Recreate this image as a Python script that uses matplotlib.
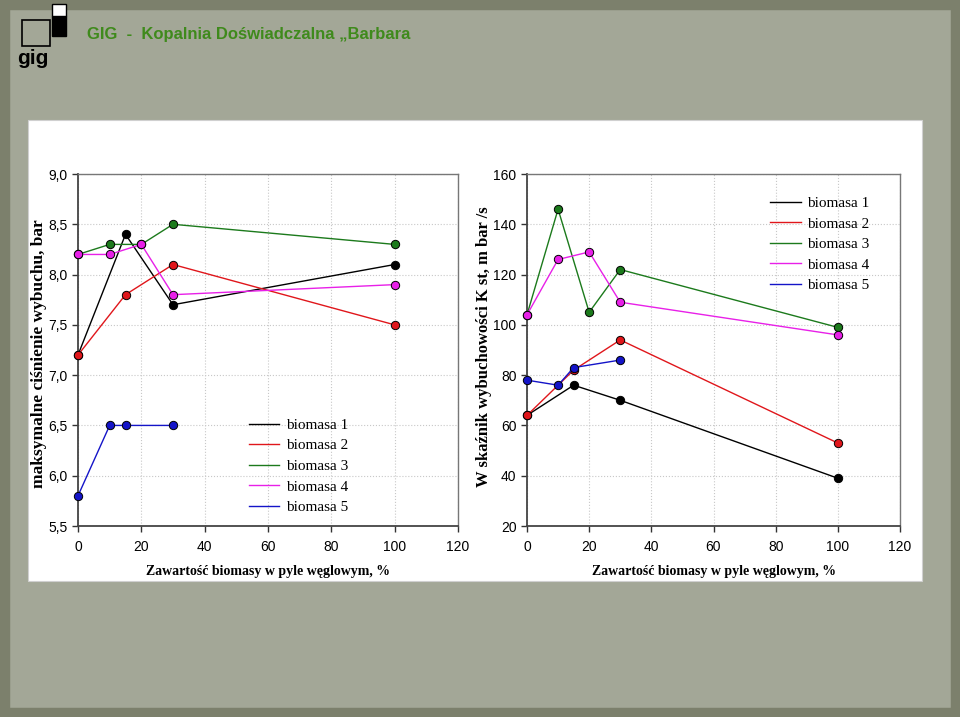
import matplotlib
matplotlib.use("Agg")
import matplotlib.pyplot as plt
from matplotlib.lines import Line2D
from matplotlib.patches import Rectangle
from matplotlib.ticker import FuncFormatter, MultipleLocator

# content of biomass in coal dust, %
labels = ["biomasa 1", "biomasa 2", "biomasa 3", "biomasa 4", "biomasa 5"]
colors = ["#000000", "#e0161b", "#1c7a1c", "#e820e8", "#1414c8"]

# maximum explosion pressure, bar
p_x = [
    [0, 15, 30, 100],
    [0, 15, 30, 100],
    [0, 10, 20, 30, 100],
    [0, 10, 20, 30, 100],
    [0, 10, 15, 30],
]
p_y = [
    [7.2, 8.4, 7.7, 8.1],
    [7.2, 7.8, 8.1, 7.5],
    [8.2, 8.3, 8.3, 8.5, 8.3],
    [8.2, 8.2, 8.3, 7.8, 7.9],
    [5.8, 6.5, 6.5, 6.5],
]

# explosion index Kst, bar m/s
k_x = [
    [0, 15, 30, 100],
    [0, 15, 30, 100],
    [0, 10, 20, 30, 100],
    [0, 10, 20, 30, 100],
    [0, 10, 15, 30],
]
k_y = [
    [64, 76, 70, 39],
    [64, 82, 94, 53],
    [104, 146, 105, 122, 99],
    [104, 126, 129, 109, 96],
    [78, 76, 83, 86],
]

XLABEL = "Zawartość biomasy w pyle węglowym, %"
YLABEL1 = "maksymalne ciśnienie wybuchu, bar"
YLABEL2 = "W skaźnik wybuchowości K st, m bar /s"
SANS = "Liberation Sans"
SERIF = "Liberation Serif"

fig = plt.figure(figsize=(9.6, 7.17), dpi=100)
fig.patch.set_facecolor("#a3a797")

# darker torn-paper edges of the slide
fig.patches.append(Rectangle((0, 0), 1, 1, transform=fig.transFigure,
                             fill=False, edgecolor="#7c806c", linewidth=14,
                             zorder=-2))
# white panel behind the charts
fig.patches.append(Rectangle((28 / 960, 1 - 581 / 717), 894 / 960, 461 / 717,
                             transform=fig.transFigure, facecolor="white",
                             edgecolor="#d0d0d0", linewidth=0.8, zorder=-1))

fig.text(87 / 960, 1 - 35 / 717, "GIG  -  Kopalnia Doświadczalna \u201eBarbara",
         color="#3f8a1c", fontsize=12, fontweight="bold",
         family=SANS, va="center", ha="left")
fig.text(33 / 960, 1 - 59 / 717, "gig", color="black", fontsize=15,
         fontweight="bold", family=SANS, va="center", ha="center")
fig.patches.append(Rectangle((22 / 960, 1 - 46 / 717), 28 / 960, 26 / 717,
                             transform=fig.transFigure, fill=False,
                             edgecolor="black", linewidth=1.2))
fig.patches.append(Rectangle((52 / 960, 1 - 36 / 717), 14 / 960, 20 / 717,
                             transform=fig.transFigure, facecolor="black",
                             edgecolor="black", linewidth=1))
fig.patches.append(Rectangle((52 / 960, 1 - 16 / 717), 14 / 960, 12 / 717,
                             transform=fig.transFigure, facecolor="white",
                             edgecolor="black", linewidth=1))


def comma(v, _):
    return f"{v:.1f}".replace(".", ",")


def style_axes(ax):
    ax.set_facecolor("white")
    ax.grid(True, linestyle=":", color="#c8c8c8", linewidth=0.8)
    ax.set_axisbelow(True)
    for s in ["left", "bottom"]:
        ax.spines[s].set_color("#444444")
        ax.spines[s].set_linewidth(1.3)
    for s in ["top", "right"]:
        ax.spines[s].set_color("#777777")
        ax.spines[s].set_linewidth(1.0)
    ax.tick_params(direction="out", length=4, width=1, colors="#333333",
                   labelsize=10, labelcolor="black")
    ax.tick_params(axis="x", pad=6)
    for t in ax.get_xticklabels() + ax.get_yticklabels():
        t.set_family(SANS)
    ax.set_xlim(0, 120)
    ax.xaxis.set_major_locator(MultipleLocator(20))
    ax.set_xlabel(XLABEL, family=SERIF, fontsize=10, fontweight="bold",
                  labelpad=8)


def draw(ax, xs, ys):
    for x, y, c in zip(xs, ys, colors):
        ax.plot(x, y, "-o", color=c, linewidth=1.0, markersize=6,
                markerfacecolor=c, markeredgecolor="black",
                markeredgewidth=0.7, clip_on=False, zorder=3)


def add_legend(ax, anchor):
    handles = [Line2D([], [], color=c, linewidth=1.0) for c in colors]
    ax.legend(handles, labels, loc="center", bbox_to_anchor=anchor,
              frameon=False, handlelength=2.0, handletextpad=0.45,
              labelspacing=0.45, prop={"family": SERIF, "size": 11})


# left chart: maximum pressure
ax1 = fig.add_axes([78 / 960, 1 - 526 / 717, 380 / 960, 352 / 717])
draw(ax1, p_x, p_y)
ax1.set_ylim(5.5, 9.0)
ax1.yaxis.set_major_locator(MultipleLocator(0.5))
ax1.yaxis.set_major_formatter(FuncFormatter(comma))
style_axes(ax1)
ax1.set_ylabel(YLABEL1, family=SERIF, fontsize=12.5, fontweight="bold")
ax1.yaxis.set_label_coords(-0.082, 0.49)
add_legend(ax1, (0.58, 0.17))

# right chart: explosion index
ax2 = fig.add_axes([527 / 960, 1 - 526 / 717, 373 / 960, 352 / 717])
draw(ax2, k_x, k_y)
ax2.set_ylim(20, 160)
ax2.yaxis.set_major_locator(MultipleLocator(20))
style_axes(ax2)
ax2.set_ylabel(YLABEL2, family=SERIF, fontsize=12, fontweight="bold")
ax2.yaxis.set_label_coords(-0.094, 0.51)
add_legend(ax2, (0.785, 0.80))

fig.savefig("out.png", dpi=100)
